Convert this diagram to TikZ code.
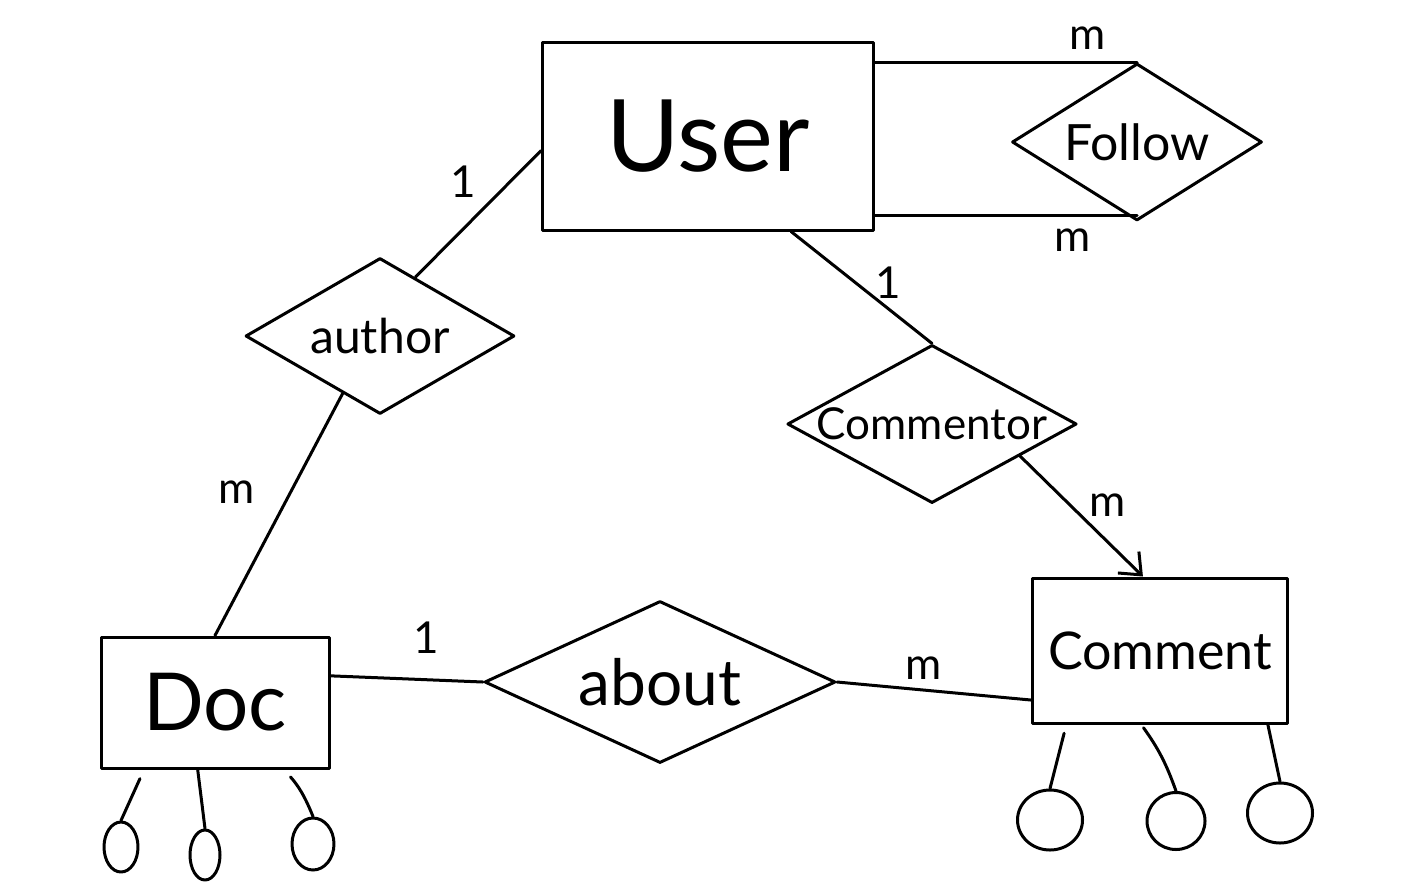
\documentclass[tikz,border=0pt]{standalone}
\usepackage{fontspec}
\setmainfont{Lato}
\usetikzlibrary{shapes.geometric,calc,arrows.meta}
\begin{document}
\begin{tikzpicture}[x=1pt,y=-1pt, line width=3pt, line join=round, line cap=round,
  entity/.style={draw, rectangle, inner sep=0pt},
  rel/.style={draw, diamond, inner sep=0pt},
  attr/.style={draw, ellipse, inner sep=0pt},
  card/.style={inner sep=0pt, font=\fontsize{44}{44}\selectfont},
  fs/.style={font=\fontsize{#1}{#1}\selectfont}]
\useasboundingbox (0,0) rectangle (1405,892);
% entities
\node[entity, minimum width=331pt, minimum height=188pt, fs=100] (user) at (708,136) {User};
\node[entity, minimum width=228pt, minimum height=131pt, fs=80] (doc) at (215,702.5) {Doc};
\node[entity, minimum width=255pt, minimum height=145pt, fs=52] (comment) at (1160,650.5) {Comment};
% relationships
\node[rel, shape aspect=1.6, minimum width=250pt, minimum height=157pt, fs=50] (follow) at (1137,142) {Follow};
\node[rel, shape aspect=1.72, minimum width=269pt, minimum height=156pt, fs=48] (author) at (380,336) {author};
\node[rel, shape aspect=1.83, minimum width=280pt, minimum height=153pt, fs=44] (commentor) at (932,424) {Commentor};
\node[rel, shape aspect=2.17, minimum width=351pt, minimum height=162pt, fs=64] (about) at (660,682) {about};
% attributes
\node[attr, minimum width=34pt, minimum height=50pt] (da1) at (121,847) {};
\node[attr, minimum width=30pt, minimum height=50pt] (da2) at (205,855) {};
\node[attr, minimum width=42pt, minimum height=52pt] (da3) at (313,844) {};
\node[attr, minimum width=65pt, minimum height=60pt] (ca1) at (1050,820) {};
\node[attr, minimum width=58pt, minimum height=57pt] (ca2) at (1176,821) {};
\node[attr, minimum width=65pt, minimum height=60pt] (ca3) at (1280,813) {};
% connectors
\draw (follow.north) -- (follow.north -| user.east);
\draw ([yshift=7pt]follow.south) -- ([yshift=7pt]follow.south -| user.east);
\draw (user.185) -- (author.59);
\draw (author.237) -- (doc.north);
\draw (user.-49) -- (commentor.north);
\draw[-{Straight Barb[length=18pt,width=30pt]}] (commentor.-20) -- (comment.103);
\draw (doc.13) -- (about.west);
\draw (about.east) -- (comment.201);
\draw[shorten <=10pt] ($(doc.south west)!0.193!(doc.south east)$) -- (da1.north);
\draw ($(doc.south west)!0.425!(doc.south east)$) -- (da2.north);
\draw[shorten <=10pt] ($(doc.south west)!0.798!(doc.south east)$) to[bend left=10] (da3.north);
\draw[shorten <=9pt] ($(comment.south west)!0.137!(comment.south east)$) -- (ca1.north);
\draw[shorten <=4pt] ($(comment.south west)!0.427!(comment.south east)$) to[bend left=8] (ca2.north);
\draw ($(comment.south west)!0.918!(comment.south east)$) -- (ca3.north);
% cardinalities
\node[card] (c1) at (1088,38) {m};
\node[card] (c2) at (1073,240) {m};
\node[card] (c3) at (463,182) {1};
\node[card] (c4) at (237,492) {m};
\node[card] (c5) at (888,283) {1};
\node[card] (c6) at (1108,505) {m};
\node[card] (c7) at (426,638) {1};
\node[card] (c8) at (924,668) {m};
\end{tikzpicture}
\end{document}
